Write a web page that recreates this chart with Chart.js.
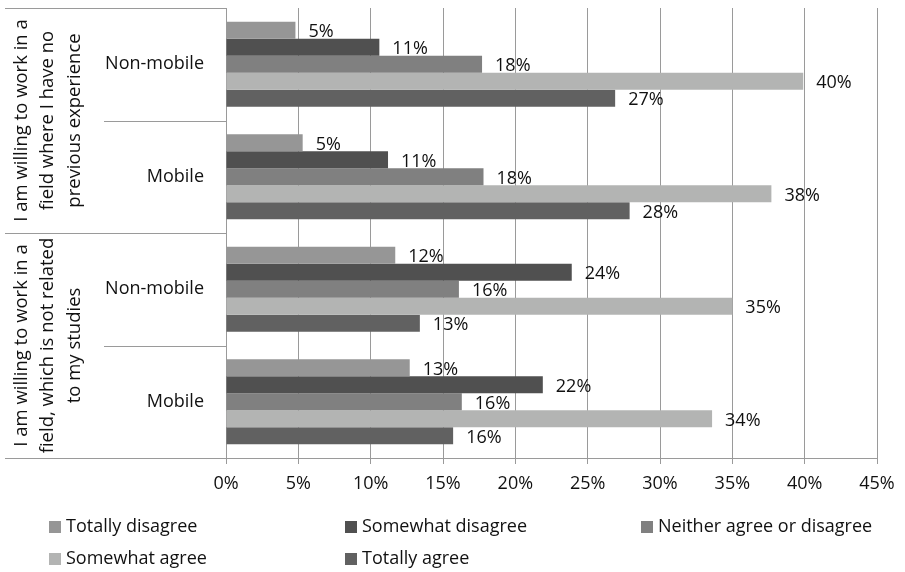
<!DOCTYPE html>
<html>
<head>
<meta charset="utf-8">
<script src="https://cdn.jsdelivr.net/npm/chart.js@4/dist/chart.umd.min.js"></script>
<style>
  html, body { margin: 0; padding: 0; background: #fff; }
  #wrap { width: 905px; height: 572px; }
</style>
</head>
<body>
<div id="wrap"><canvas id="myChart" width="905" height="572"></canvas></div>
<script>
// categories (top to bottom) and the two question groups
var categories = ['Non-mobile', 'Mobile', 'Non-mobile', 'Mobile'];
var groupLabels = [
  ['I am willing to work in a', 'field where I have no', 'previous experience'],
  ['I am willing to work in a', 'field, which is not related', 'to my studies']
];

// series values in %
var totallyDisagree  = [4.8, 5.3, 11.7, 12.7];
var somewhatDisagree = [10.6, 11.2, 23.9, 21.9];
var neitherAgree     = [17.7, 17.8, 16.1, 16.3];
var somewhatAgree    = [39.9, 37.7, 35.0, 33.6];
var totallyAgree     = [26.9, 27.9, 13.4, 15.7];

var seriesNames = ['Totally disagree', 'Somewhat disagree', 'Neither agree or disagree', 'Somewhat agree', 'Totally agree'];
var xTicks = [0, 5, 10, 15, 20, 25, 30, 35, 40, 45];

var FONT = '"Open Sans", sans-serif';
var LINE = '#9a9a9a';

// value labels at the end of each bar (drawn under the bars so the next bar covers them, like the original)
var barLabels = {
  id: 'barLabels',
  beforeDatasetsDraw: function(chart) {
    var ctx = chart.ctx;
    ctx.save();
    ctx.font = '18px ' + FONT;
    ctx.fillStyle = '#111';
    ctx.textAlign = 'left';
    ctx.textBaseline = 'middle';
    chart.data.datasets.forEach(function(ds, i) {
      var meta = chart.getDatasetMeta(i);
      meta.data.forEach(function(bar, j) {
        ctx.fillText(Math.round(ds.data[j]) + '%', bar.x + 13, bar.y + 2);
      });
    });
    ctx.restore();
  }
};

// table lines, rotated group titles and the legend
var sideTable = {
  id: 'sideTable',
  afterDraw: function(chart) {
    var ctx = chart.ctx;
    var y = chart.scales.y;
    var area = chart.chartArea;
    var axisX = Math.round(area.left) + 0.5;
    var n = categories.length;
    var bounds = [area.top];
    for (var i = 0; i < n - 1; i++) {
      bounds.push((y.getPixelForTick(i) + y.getPixelForTick(i + 1)) / 2);
    }
    bounds.push(area.bottom);

    ctx.save();
    ctx.strokeStyle = LINE;
    ctx.lineWidth = 1;
    bounds.forEach(function(b, k) {
      var yy = Math.round(b) + 0.5;
      var x0 = (k % 2 === 0) ? 5 : 104;
      ctx.beginPath();
      ctx.moveTo(x0, yy);
      ctx.lineTo(axisX, yy);
      ctx.stroke();
    });

    // rotated question labels
    ctx.fillStyle = '#111';
    ctx.font = '18.5px ' + FONT;
    ctx.textAlign = 'center';
    ctx.textBaseline = 'middle';
    groupLabels.forEach(function(lines, g) {
      var cy = (bounds[g * 2] + bounds[g * 2 + 2]) / 2;
      ctx.save();
      ctx.translate(48, cy);
      ctx.rotate(-Math.PI / 2);
      lines.forEach(function(t, li) {
        ctx.fillText(t, 0, (li - 1) * 26.5);
      });
      ctx.restore();
    });

    // legend, 3 columns
    var colX = [49, 345, 641];
    var rowY = [527, 559];
    ctx.font = '18px ' + FONT;
    ctx.textAlign = 'left';
    chart.data.datasets.forEach(function(ds, i) {
      var cx = colX[i % 3];
      var cy = rowY[Math.floor(i / 3)];
      ctx.fillStyle = ds.backgroundColor;
      ctx.fillRect(cx, cy - 6, 12, 12);
      ctx.fillStyle = '#111';
      ctx.fillText(ds.label, cx + 17, cy);
    });
    ctx.restore();
  }
};

var colors = ['#969696', '#505050', '#808080', '#b3b4b3', '#616161'];
var seriesData = [totallyDisagree, somewhatDisagree, neitherAgree, somewhatAgree, totallyAgree];

var ctx = document.getElementById('myChart').getContext('2d');
var myChart = new Chart(ctx, {
  type: 'bar',
  data: {
    labels: categories,
    datasets: seriesData.map(function(d, i) {
      return {
        label: seriesNames[i],
        data: d,
        backgroundColor: colors[i],
        borderWidth: 0,
        categoryPercentage: 0.755,
        barPercentage: 1
      };
    })
  },
  options: {
    indexAxis: 'y',
    responsive: false,
    animation: false,
    devicePixelRatio: 1,
    layout: { padding: { top: 8, right: 28, left: 0, bottom: 0 } },
    plugins: {
      legend: { display: false },
      tooltip: { enabled: false }
    },
    scales: {
      x: {
        min: 0,
        max: 45,
        afterBuildTicks: function(scale) {
          scale.ticks = xTicks.map(function(v) { return { value: v }; });
        },
        afterFit: function(scale) {
          scale.height = 114;
          scale.paddingLeft = 0;
          scale.paddingRight = 0;
        },
        grid: { color: LINE, lineWidth: 1, drawTicks: true, tickLength: 6 },
        border: { display: true, color: LINE },
        ticks: {
          padding: 9,
          color: '#111',
          font: { family: FONT, size: 18 },
          callback: function(v) { return v + '%'; }
        }
      },
      y: {
        afterFit: function(scale) {
          scale.width = 226;
          scale.paddingTop = 0;
          scale.paddingBottom = 0;
        },
        grid: { display: false, drawTicks: false },
        border: { display: true, color: LINE },
        ticks: {
          padding: 22,
          color: '#111',
          font: { family: FONT, size: 18 }
        }
      }
    }
  },
  plugins: [barLabels, sideTable]
});
</script>
</body>
</html>
